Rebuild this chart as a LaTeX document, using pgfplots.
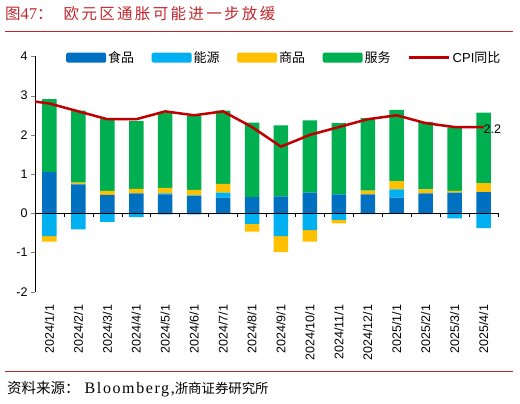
\documentclass[border=0pt]{standalone}
\usepackage{fontspec}
\setmainfont{Liberation Sans}
\newfontfamily\cjk{Noto Sans CJK SC}
\newfontfamily\cjktitle[LetterSpace=15]{Noto Sans CJK SC}
\newfontfamily\serifen{Liberation Serif}
\newfontfamily\serifsp[LetterSpace=10]{Liberation Serif}
\usepackage{pgfplots}
\usepackage{pgfplotstable}
\pgfplotsset{compat=1.18}

\definecolor{cfood}{HTML}{0070C0}
\definecolor{cenergy}{HTML}{00B0F0}
\definecolor{cgoods}{HTML}{FFC000}
\definecolor{cserv}{HTML}{00B050}
\definecolor{ccpi}{HTML}{C00000}
\definecolor{ctitle}{HTML}{C0282D}

\pgfplotsset{
  barleg/.style={legend image code/.code={\fill[##1] (0pt,-5pt) [rounded corners=1.5pt] rectangle (40pt,5pt);}},
  lineleg/.style={legend image code/.code={\draw[##1] (0pt,0pt) -- (40pt,0pt);}},
  geom/.style={at={(35pt,112.3pt)}, anchor=south west, scale only axis,
    width=463pt, height=235.2pt, xmin=-0.5, xmax=15.5, ymin=-2, ymax=4},
}

% x food enpos compos serv enneg comneg
\pgfplotstableread{
x food enpos compos serv enneg comneg
0  1.05 0    0    1.86 -0.58 -0.14
1  0.74 0    0.04 1.84 -0.41 0
2  0.47 0    0.10 1.84 -0.22 0
3  0.51 0    0.11 1.74 -0.10 0
4  0.48 0.03 0.14 1.92 -0.03 0
5  0.44 0.02 0.14 1.88 -0.03 0
6  0.40 0.13 0.22 1.87 -0.02 0
7  0.41 0    0    1.90 -0.27 -0.20
8  0.43 0    0    1.81 -0.58 -0.41
9  0.53 0    0    1.84 -0.43 -0.29
10 0.48 0    0    1.82 -0.17 -0.09
11 0.48 0    0.10 1.85 -0.02 0
12 0.40 0.21 0.21 1.82 0     0
13 0.51 0    0.10 1.72 -0.02 0
14 0.53 0    0.04 1.62 -0.13 0
15 0.54 0    0.23 1.80 -0.38 0
}\bars

\pgfplotstableread{
x cpi
-1 2.9
0 2.8
1 2.6
2 2.4
3 2.4
4 2.6
5 2.5
6 2.6
7 2.2
8 1.7
9 2.0
10 2.2
11 2.4
12 2.5
13 2.3
14 2.2
15 2.2
}\cpi

\begin{document}
\begin{tikzpicture}
\useasboundingbox (0,0) rectangle (520pt,404pt);
% title
\node[anchor=west, inner sep=0pt, text=ctitle] at (5pt,390pt)
  {\fontsize{15.5}{17}\selectfont{\cjk 图}{\fontsize{16.5}{17}\selectfont\serifen 47}{\cjk ：}\hspace{11pt}{\cjktitle 欧元区通胀可能进一步放缓}};
\draw[ctitle, line width=0.8pt] (5pt,373pt) -- (513pt,373pt);
\draw[ctitle, line width=0.8pt] (5pt,33pt) -- (513pt,33pt);
\node[anchor=west, inner sep=0pt] at (7pt,15pt)
  {{\fontsize{14.5}{16}\selectfont\cjk 资料来源：}\hspace{5pt}{\fontsize{16}{16}\selectfont\serifsp Bloomberg,}{\fontsize{13.4}{16}\selectfont\cjk 浙商证券研究所}};

% negative parts
\begin{axis}[geom, hide axis, ybar stacked, bar width=0.5]
\addplot[fill=cenergy, draw=none] table[x=x,y=enneg]{\bars};
\addplot[fill=cgoods, draw=none] table[x=x,y=comneg]{\bars};
\end{axis}

% positive parts, axes, legend
\begin{axis}[geom, ybar stacked, bar width=0.5,
  axis y line*=left, axis x line*=bottom,
  x axis line style={draw=none},
  major x tick style={draw=none},
  tick align=outside, major tick length=4pt,
  y axis line style={black, line width=0.6pt},
  ytick={-2,-1,0,1,2,3,4},
  xtick={0,...,15},
  xticklabels={2024/1/1,2024/2/1,2024/3/1,2024/4/1,2024/5/1,2024/6/1,2024/7/1,2024/8/1,2024/9/1,2024/10/1,2024/11/1,2024/12/1,2025/1/1,2025/2/1,2025/3/1,2025/4/1},
  xticklabel style={font=\fontsize{12.5}{14}\selectfont, yshift=-9pt, rotate=90, anchor=east, inner sep=0pt},
  yticklabel style={font=\fontsize{12.5}{14}\selectfont},
  /pgf/number format/assume math mode=true,
  legend columns=5,
  legend style={at={(0.067,0.995)}, anchor=west, draw=none, fill=none,
    inner xsep=0pt, inner ysep=0pt,
    font=\fontsize{13}{15}\selectfont,
    /tikz/every even column/.append style={column sep=15.5pt}},
]
\addplot[fill=cfood, draw=none, barleg] table[x=x,y=food]{\bars};
\addlegendentry{\cjk 食品}
\addplot[fill=cenergy, draw=none, barleg] table[x=x,y=enpos]{\bars};
\addlegendentry{\cjk 能源}
\addplot[fill=cgoods, draw=none, barleg] table[x=x,y=compos]{\bars};
\addlegendentry{\cjk 商品}
\addplot[fill=cserv, draw=none, barleg] table[x=x,y=serv]{\bars};
\addlegendentry{\cjk 服务}
\addlegendimage{lineleg, ccpi, line width=2.5pt}
\addlegendentry{CPI{\cjk 同比}}
\end{axis}

% CPI line
\begin{axis}[geom, hide axis]
\addplot[ccpi, line width=2.5pt, no marks] table[x=x,y=cpi]{\cpi};
\coordinate (lastpt) at (axis cs:15,2.2);
\end{axis}
\node[anchor=west, inner sep=0pt, yshift=-2pt, font=\fontsize{12.5}{14}\selectfont] at (lastpt) {2.2};

% zero line with ticks between categories
\draw[black, line width=0.6pt] (35pt,190.7pt) -- (498pt,190.7pt);
\foreach \i in {0,...,16} {
  \draw[black, line width=0.6pt] ({35pt+\i*28.9375pt},190.7pt) -- ++(0,-4pt);
}
\end{tikzpicture}
\end{document}
